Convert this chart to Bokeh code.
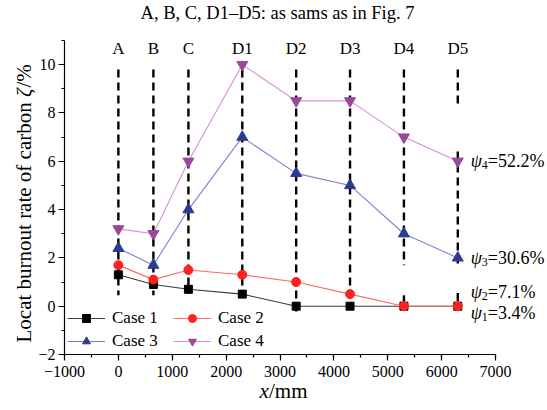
import math
from bokeh.plotting import figure
from bokeh.models import Legend, LegendItem, Label, SingleIntervalTicker, Range1d, LinearAxis
from bokeh.embed import file_html
from bokeh.resources import INLINE

# ---------------- data ----------------
stations = ["A", "B", "C", "D1", "D2", "D3", "D4", "D5"]
x_mm = [0, 650, 1300, 2300, 3300, 4300, 5300, 6300]
case1 = [1.3, 0.9, 0.7, 0.5, 0.0, 0.0, 0.0, 0.0]
case2 = [1.7, 1.1, 1.5, 1.3, 1.0, 0.5, 0.0, 0.0]
case3 = [2.4, 1.7, 4.0, 7.0, 5.5, 5.0, 3.0, 2.0]
case4 = [3.2, 3.0, 6.0, 10.0, 8.5, 8.5, 7.0, 6.0]
case_names = ["Case 1", "Case 2", "Case 3", "Case 4"]
psi_subs = ["1", "2", "3", "4"]
psi_values = ["3.4%", "7.1%", "30.6%", "52.2%"]
title_text = "A, B, C, D1\u2013D5: as sams as in Fig. 7"
y_label_parts = ["Locat burnout rate of carbon ", "\u03b6", "/%"]
x_label_parts = ["x", "/mm"]

# dashed station marker lines (x, top, bottom)
dash_x = [0, 650, 1300, 2300, 3300, 4300, 5300, 5300, 6300, 6300, 6300]
dash_top = [9.8, 9.8, 9.8, 9.8, 9.8, 9.8, 9.8, 0.45, 9.8, 6.4, 0.55]
dash_bot = [0.45, 0.45, 0.5, 0.45, -0.25, 0.45, 1.7, 0.0, 8.2, 1.7, 0.0]

# ---------------- layout ----------------
W, H = 547, 410
L, R, T, B = 64, 52, 40, 56          # pixel position of the axes box
XMIN, XMAX, YMIN, YMAX = -1000, 7000, -2, 11
sx = (W - L - R) / (XMAX - XMIN)
sy = (H - T - B) / (YMAX - YMIN)


def dx(px):
    return XMIN + (px - L) / sx


def dy(py):
    return YMIN + (H - B - py) / sy


FONT = "Liberation Serif"

p = figure(width=W, height=H,
           x_range=Range1d(dx(0), dx(W)), y_range=Range1d(dy(H), dy(0)),
           x_axis_type=None, y_axis_type=None,
           output_backend="svg", toolbar_location=None,
           min_border_left=0, min_border_right=0, min_border_top=0, min_border_bottom=0)
p.xgrid.visible = False
p.ygrid.visible = False
p.outline_line_color = None
p.background_fill_color = "white"
p.border_fill_color = "white"

xaxis = LinearAxis(fixed_location=YMIN, bounds=(XMIN, XMAX),
                   ticker=SingleIntervalTicker(interval=1000, num_minor_ticks=2))
yaxis = LinearAxis(fixed_location=XMIN, bounds=(YMIN, YMAX),
                   ticker=SingleIntervalTicker(interval=2, num_minor_ticks=2))
xaxis.major_label_overrides = {-1000: "\u22121000"}
yaxis.major_label_overrides = {-2: "\u22122"}
for ax in (xaxis, yaxis):
    ax.axis_line_color = "black"
    ax.axis_line_width = 1.2
    ax.major_tick_line_color = "black"
    ax.minor_tick_line_color = "black"
    ax.major_tick_line_width = 1.2
    ax.minor_tick_line_width = 1.2
    ax.major_tick_out = 6
    ax.major_tick_in = 0
    ax.minor_tick_out = 3
    ax.minor_tick_in = 0
    ax.major_label_text_font = FONT
    ax.major_label_text_font_size = "16px"
    ax.major_label_text_color = "black"
xaxis.major_label_standoff = 5
yaxis.major_label_standoff = 3
p.add_layout(xaxis, "below")
p.add_layout(yaxis, "left")

# dashed station lines
p.segment(x0=dash_x, y0=dash_top, x1=dash_x, y1=dash_bot, line_color="black",
          line_width=2.4, line_dash="8 5")

styles = [
    (case1, "#3a3a3a", "#000000", "square", 8),
    (case2, "#ff6a6a", "#ff2020", "circle", 9),
    (case3, "#7b82d6", "#2b3a92", "triangle", 11),
    (case4, "#d48fd4", "#9b479b", "inverted_triangle", 11),
]
items = []
for name, (ys, lc, mc, mk, sz) in zip(case_names, styles):
    lr = p.line(x_mm, ys, line_color=lc, line_width=1.1)
    sr = p.scatter(x_mm, ys, marker=mk, size=sz, fill_color=mc, line_color=mc)
    items.append(LegendItem(label=name, renderers=[lr, sr]))

legend = Legend(items=items, location=(L + 3, B + 3), orientation="horizontal", ncols=2,
                glyph_width=38, glyph_height=20, label_standoff=7, spacing=3,
                label_width=58, padding=0, margin=0, border_line_color=None,
                background_fill_alpha=0, label_text_font=FONT,
                label_text_font_size="17px", label_text_color="black")
p.add_layout(legend)

# title
p.add_layout(Label(x=dx(277), y=dy(12), text=title_text, text_align="center",
                   text_baseline="middle", text_font=FONT, text_font_size="18.5px",
                   text_color="black"))

# station labels
for s, xv in zip(stations, x_mm):
    p.add_layout(Label(x=xv, y=dy(48), text=s, text_align="center", text_baseline="middle",
                       text_font=FONT, text_font_size="17px", text_color="black"))

# psi labels
ends = [case1[-1], case2[-1], case3[-1], case4[-1]]
pix_off = [7, -14, 0, 0]
for e, off, sub, val in zip(ends, pix_off, psi_subs, psi_values):
    yc = e - off / sy
    p.add_layout(Label(x=x_mm[-1], y=yc, x_offset=13, text="\u03c8", text_align="left",
                       text_baseline="middle", text_font=FONT, text_font_style="italic",
                       text_font_size="18px", text_color="black"))
    p.add_layout(Label(x=x_mm[-1], y=yc - 4 / sy, x_offset=24, text=sub, text_align="left",
                       text_baseline="middle", text_font=FONT, text_font_size="12px",
                       text_color="black"))
    p.add_layout(Label(x=x_mm[-1], y=yc, x_offset=30, text="=" + val, text_align="left",
                       text_baseline="middle", text_font=FONT, text_font_size="18px",
                       text_color="black"))

# x axis label
p.add_layout(Label(x=dx(259), y=dy(390), text=x_label_parts[0], text_align="left",
                   text_baseline="middle", text_font=FONT, text_font_style="italic",
                   text_font_size="21px", text_color="black"))
p.add_layout(Label(x=dx(268.5), y=dy(390), text=x_label_parts[1], text_align="left",
                   text_baseline="middle", text_font=FONT, text_font_size="21px",
                   text_color="black"))

# y axis label (rotated, with italic zeta)
ylx = dx(23)
starts = [342, 342 - 245.5, 342 - 245.5 - 9.5]
yl_styles = ["normal", "italic", "normal"]
for part, st, fs in zip(y_label_parts, starts, yl_styles):
    p.add_layout(Label(x=ylx, y=dy(st), text=part, angle=90, angle_units="deg",
                       text_align="left", text_baseline="middle", text_font=FONT,
                       text_font_style=fs, text_font_size="21px", text_color="black"))

open("out.html", "w").write(file_html(p, INLINE))
